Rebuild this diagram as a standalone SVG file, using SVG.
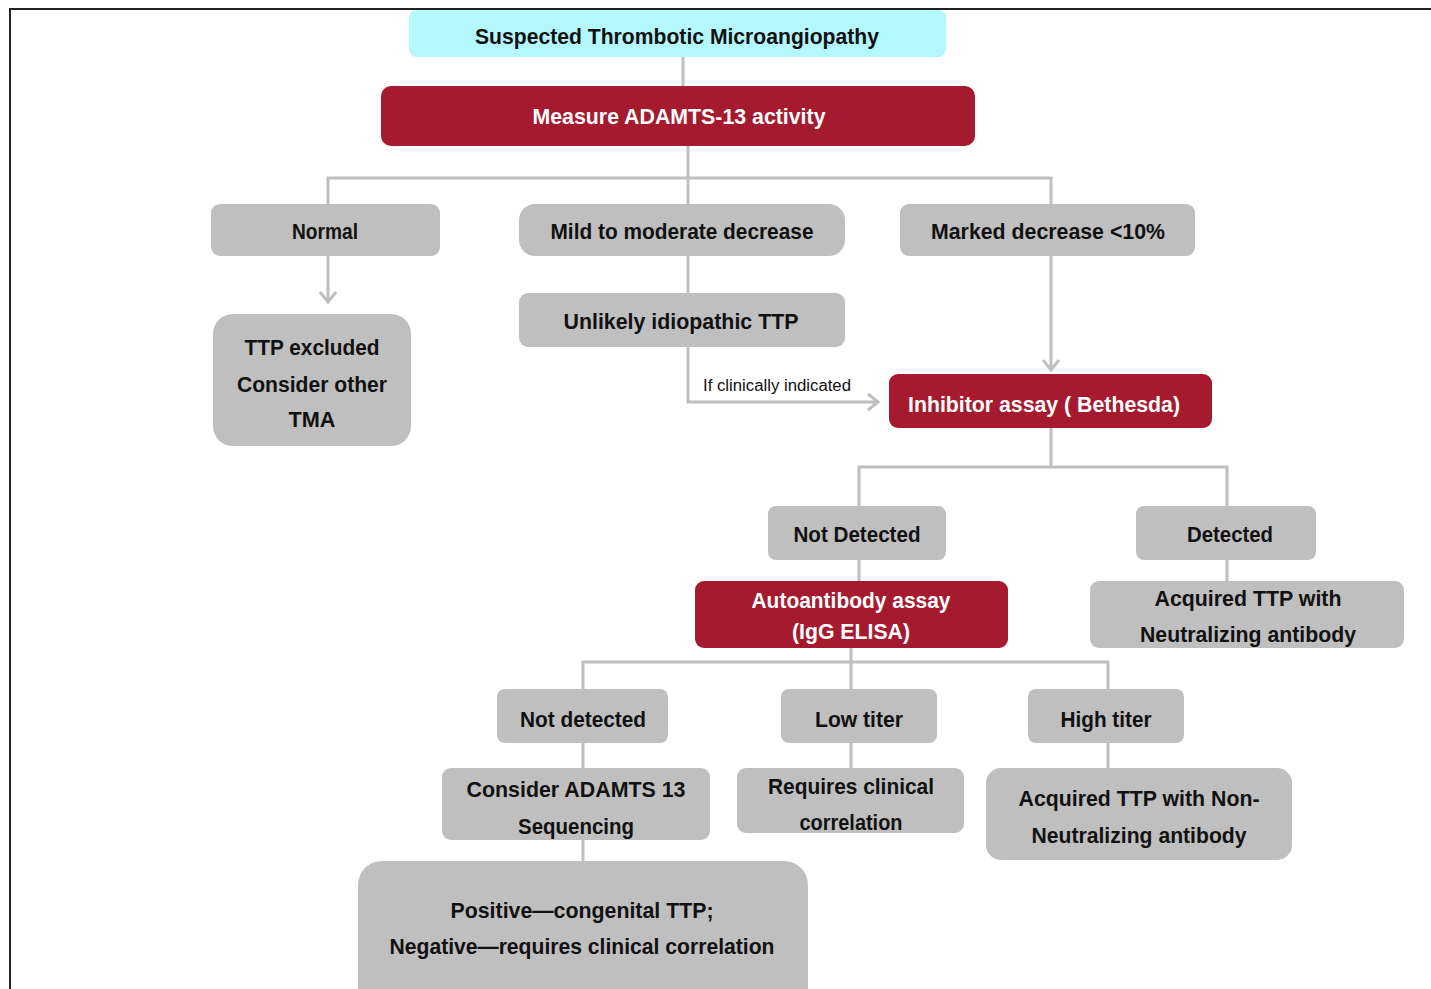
<svg xmlns="http://www.w3.org/2000/svg" width="1431" height="989" viewBox="0 0 1431 989">
<style>
.g{fill:#BFBFBF}
.r{fill:#A51A2E}
.c{fill:#B3F8FD}
text{font-family:"Liberation Sans",Arial,sans-serif;font-weight:bold;font-size:21.5px;text-anchor:middle;fill:#111}
.w{fill:#FFFFFF}
.s{font-size:16px;font-weight:normal;text-anchor:start}
.ln{fill:none;stroke:#BFBFBF;stroke-width:3}
</style>
<defs>
<marker id="ah" markerWidth="20" markerHeight="20" refX="12" refY="10" orient="auto" markerUnits="userSpaceOnUse">
<path d="M2,2 L12,10 L2,18" fill="none" stroke="#BFBFBF" stroke-width="3"/>
</marker>
</defs>
<rect width="1431" height="989" fill="#FFFFFF"/>
<path d="M10,989 V9 H1431" fill="none" stroke="#222" stroke-width="2"/>

<g id="connectors">
<path class="ln" d="M683,57 V86"/>
<path class="ln" d="M688,146 V204 M328,204 V178 H1051 V204"/>
<path class="ln" d="M328,256 V302" marker-end="url(#ah)"/>
<path class="ln" d="M688,256 V293"/>
<path class="ln" d="M688,347 V402 H878" marker-end="url(#ah)"/>
<path class="ln" d="M1051,256 V370" marker-end="url(#ah)"/>
<path class="ln" d="M1051,428 V467 M859,506 V467 H1227 V506"/>
<path class="ln" d="M859,560 V581"/>
<path class="ln" d="M1227,560 V581"/>
<path class="ln" d="M851,648 V689 M583,689 V662 H1108 V689"/>
<path class="ln" d="M583,743 V768"/>
<path class="ln" d="M851,743 V768"/>
<path class="ln" d="M1108,743 V768"/>
<path class="ln" d="M583,840 V861"/>
<text class="s" x="703" y="391" textLength="148" lengthAdjust="spacingAndGlyphs">If clinically indicated</text>
</g>

<g id="n_tma"><rect class="c" x="409" y="10" width="537" height="47" rx="8"/>
<text x="677" y="44" textLength="404" lengthAdjust="spacingAndGlyphs">Suspected Thrombotic Microangiopathy</text></g>

<g id="n_measure"><rect class="r" x="381" y="86" width="594" height="60" rx="10"/>
<text class="w" x="679" y="124" textLength="293" lengthAdjust="spacingAndGlyphs">Measure ADAMTS-13 activity</text></g>

<g id="n_normal"><rect class="g" x="211" y="204" width="229" height="52" rx="9"/>
<text x="325" y="239" textLength="66" lengthAdjust="spacingAndGlyphs">Normal</text></g>

<g id="n_mild"><rect class="g" x="519" y="204" width="326" height="52" rx="16"/>
<text x="682" y="239" textLength="263" lengthAdjust="spacingAndGlyphs">Mild to moderate decrease</text></g>

<g id="n_marked"><rect class="g" x="900" y="204" width="295" height="52" rx="9"/>
<text x="1048" y="239" textLength="234" lengthAdjust="spacingAndGlyphs">Marked decrease &lt;10%</text></g>

<g id="n_excluded"><rect class="g" x="213" y="314" width="198" height="132" rx="20"/>
<text x="312" y="355" textLength="135" lengthAdjust="spacingAndGlyphs">TTP excluded</text>
<text x="312" y="392" textLength="150" lengthAdjust="spacingAndGlyphs">Consider other</text>
<text x="312" y="427" textLength="47" lengthAdjust="spacingAndGlyphs">TMA</text></g>

<g id="n_unlikely"><rect class="g" x="519" y="293" width="326" height="54" rx="9"/>
<text x="681" y="329" textLength="235" lengthAdjust="spacingAndGlyphs">Unlikely idiopathic TTP</text></g>

<g id="n_inhibitor"><rect class="r" x="889" y="374" width="323" height="54" rx="9"/>
<text class="w" x="1044" y="412" textLength="272" lengthAdjust="spacingAndGlyphs">Inhibitor assay ( Bethesda)</text></g>

<g id="n_notdet1"><rect class="g" x="768" y="506" width="178" height="54" rx="8"/>
<text x="857" y="542" textLength="127" lengthAdjust="spacingAndGlyphs">Not Detected</text></g>

<g id="n_det"><rect class="g" x="1136" y="506" width="180" height="54" rx="8"/>
<text x="1230" y="542" textLength="86" lengthAdjust="spacingAndGlyphs">Detected</text></g>

<g id="n_auto"><rect class="r" x="695" y="581" width="313" height="67" rx="9"/>
<text class="w" x="851" y="608" textLength="199" lengthAdjust="spacingAndGlyphs">Autoantibody assay</text>
<text class="w" x="851" y="639" textLength="118" lengthAdjust="spacingAndGlyphs">(IgG ELISA)</text></g>

<g id="n_acqneut"><rect class="g" x="1090" y="581" width="314" height="67" rx="9"/>
<text x="1248" y="606" textLength="187" lengthAdjust="spacingAndGlyphs">Acquired TTP with</text>
<text x="1248" y="642" textLength="216" lengthAdjust="spacingAndGlyphs">Neutralizing antibody</text></g>

<g id="n_notdet2"><rect class="g" x="497" y="689" width="171" height="54" rx="8"/>
<text x="583" y="727" textLength="126" lengthAdjust="spacingAndGlyphs">Not detected</text></g>

<g id="n_low"><rect class="g" x="781" y="689" width="156" height="54" rx="8"/>
<text x="859" y="727" textLength="88" lengthAdjust="spacingAndGlyphs">Low titer</text></g>

<g id="n_high"><rect class="g" x="1028" y="689" width="156" height="54" rx="8"/>
<text x="1106" y="727" textLength="91" lengthAdjust="spacingAndGlyphs">High titer</text></g>

<g id="n_consider"><rect class="g" x="442" y="768" width="268" height="72" rx="9"/>
<text x="576" y="797" textLength="219" lengthAdjust="spacingAndGlyphs">Consider ADAMTS 13</text>
<text x="576" y="834" textLength="116" lengthAdjust="spacingAndGlyphs">Sequencing</text></g>

<g id="n_requires"><rect class="g" x="737" y="768" width="227" height="65" rx="9"/>
<text x="851" y="794" textLength="166" lengthAdjust="spacingAndGlyphs">Requires clinical</text>
<text x="851" y="830" textLength="103" lengthAdjust="spacingAndGlyphs">correlation</text></g>

<g id="n_acqnon"><rect class="g" x="986" y="768" width="306" height="92" rx="15"/>
<text x="1139" y="806" textLength="241" lengthAdjust="spacingAndGlyphs">Acquired TTP with Non-</text>
<text x="1139" y="843" textLength="215" lengthAdjust="spacingAndGlyphs">Neutralizing antibody</text></g>

<g id="n_positive"><rect class="g" x="358" y="861" width="450" height="150" rx="24"/>
<text x="582" y="918" textLength="263" lengthAdjust="spacingAndGlyphs">Positive—congenital TTP;</text>
<text x="582" y="954" textLength="385" lengthAdjust="spacingAndGlyphs">Negative—requires clinical correlation</text></g>
</svg>
